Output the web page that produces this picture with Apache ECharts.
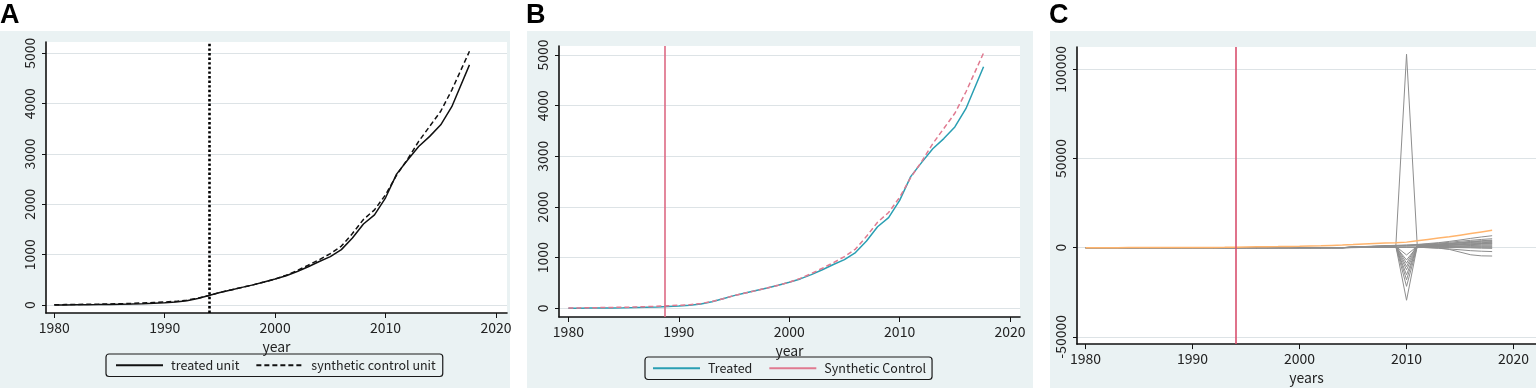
<!DOCTYPE html>
<html>
<head>
<meta charset="utf-8">
<script src="https://cdn.jsdelivr.net/npm/echarts@6/dist/echarts.min.js"></script>
<style>
html,body{margin:0;padding:0;background:#fff;}
#chart{width:1536px;height:390px;}
</style>
</head>
<body>
<div id="chart"></div>
<script>
// ---------- Data ----------
const yearsAB = [1980,1981,1982,1983,1984,1985,1986,1987,1988,1989,1990,1991,1992,1993,1994,1995,1996,1997,1998,1999,2000,2001,2002,2003,2004,2005,2006,2007,2008,2009,2010,2011,2012,2013,2014,2015,2016,2017.6];
const treatedUnit = [0,2,4,6,8,11,15,20,27,35,45,60,85,130,190,250,300,350,400,455,515,580,665,760,865,960,1100,1330,1610,1790,2130,2600,2880,3150,3350,3580,3940,4770];
const syntheticUnit = [5,8,11,14,17,20,25,32,40,50,60,72,95,135,190,250,300,350,400,455,515,590,685,790,900,1020,1170,1420,1700,1890,2190,2580,2900,3250,3550,3850,4270,5040];

const yearsC = [1980,1981,1982,1983,1984,1985,1986,1987,1988,1989,1990,1991,1992,1993,1994,1995,1996,1997,1998,1999,2000,2001,2002,2003,2004,2005,2006,2007,2008,2009,2010,2011,2012,2013,2014,2015,2016,2017,2018];
const treatedGap = [0,5,10,15,20,25,30,40,50,60,80,100,140,200,280,360,440,520,600,700,800,920,1050,1250,1450,1700,2000,2300,2550,2750,3100,3850,4600,5350,6100,7000,7900,8800,9700];
const placebo01 = [0,0,0,0,0,0,0,0,0,0,0,0,0,0,0,0,0,0,0,0,0,0,0,0,0,300,500,700,900,1000,108500,1200,1500,1800,2200,2700,3200,3600,3900];
const placebo02 = [0,0,0,0,0,0,0,0,0,0,0,0,0,0,0,0,0,0,0,0,0,0,0,0,0,200,300,400,600,800,-29500,900,1000,1200,1400,1700,2000,2300,2500];
const placebo03 = [0,0,0,0,0,0,0,0,0,0,0,0,0,0,0,0,0,0,0,0,0,0,0,0,0,150,250,350,500,700,-21700,600,700,800,900,1000,1200,1400,1500];
const placebo04 = [0,0,0,0,0,0,0,0,0,0,0,0,0,0,0,0,0,0,0,0,0,0,0,0,0,250,400,600,800,1000,-18000,1100,1300,1600,1900,2200,2500,2800,3000];
const placebo05 = [0,0,0,0,0,0,0,0,0,0,0,0,0,0,0,0,0,0,0,0,0,0,0,0,0,100,200,300,400,500,-15200,500,500,500,500,500,500,500,500];
const placebo06 = [0,0,0,0,0,0,0,0,0,0,0,0,0,0,0,0,0,0,0,0,0,0,0,0,0,100,150,250,350,450,-12400,400,300,200,100,0,-100,-300,-400];
const placebo07 = [0,0,0,0,0,0,0,0,0,0,0,0,0,0,0,0,0,0,0,0,0,0,0,0,0,200,350,500,700,900,-10600,1000,1200,1400,1600,1800,2100,2300,2500];
const placebo08 = [0,0,0,0,0,0,0,0,0,0,0,0,0,0,0,0,0,0,0,0,0,0,0,0,0,300,500,700,900,1100,-8700,1300,1700,2100,2500,3000,3500,3900,4200];
const placebo09 = [0,0,0,0,0,0,0,0,0,0,0,0,0,0,0,0,0,0,0,0,0,0,0,0,0,100,200,300,400,500,-6900,600,650,700,750,800,900,950,1000];
const placebo10 = [0,0,0,0,0,0,0,0,0,0,0,0,0,0,0,0,0,0,0,0,0,0,0,0,0,150,250,400,550,700,-4100,800,950,1100,1300,1500,1700,1900,2000];
const placebo11 = [0,0,0,0,0,0,0,0,0,0,0,0,0,0,0,0,0,0,0,0,0,0,0,0,0,400,600,900,1100,1300,1500,1800,2300,2800,3500,4300,5200,6000,6700];
const placebo12 = [0,0,0,0,0,0,0,0,0,0,0,0,0,0,0,0,0,0,0,0,0,0,0,0,0,50,100,150,200,250,300,200,0,-300,-1000,-2500,-4000,-4600,-4700];
const placebo13 = [0,0,0,0,0,0,0,0,0,0,0,0,0,0,0,0,0,0,0,0,0,0,0,0,0,50,100,150,200,250,300,200,0,-300,-700,-1200,-1700,-2000,-2200];
const placebo14 = [0,0,0,0,0,0,0,0,0,0,0,0,0,0,0,0,0,0,0,0,0,0,0,0,0,200,300,500,700,900,1100,1300,1600,1900,2200,2600,2900,3200,3400];
const placebo15 = [0,0,0,0,0,0,0,0,0,0,0,0,0,0,0,0,0,0,0,0,0,0,0,0,0,50,100,150,200,250,300,300,300,250,250,200,200,200,200];
const placebo16 = [0,0,0,0,0,0,0,0,0,0,0,0,0,0,0,0,0,0,0,0,0,0,0,0,0,300,500,700,900,1100,1300,1600,2000,2500,3000,3600,4100,4600,5000];
const placebos = [placebo01,placebo02,placebo03,placebo04,placebo05,placebo06,placebo07,placebo08,placebo09,placebo10,placebo11,placebo12,placebo13,placebo14,placebo15,placebo16];

const xTicks = [1980,1990,2000,2010,2020];
const yTicksAB = [0,1000,2000,3000,4000,5000];
const yTicksC = [-50000,0,50000,100000];
const interventionA = 1994;
const interventionB = 1988.75;
const interventionC = 1994;

// ---------- Styling ----------
const FONT = '"Noto Sans CJK SC", "Noto Sans", sans-serif';
const TXT = '#222';
const PANEL_BG = '#eaf2f3';
const GRID_LINE = '#dde3e6';

function pairs(xs, ys){ return xs.map((x,i)=>[x, ys[i]]); }

function xAxis(gi, min, max, name){
  return {
    type:'value', gridIndex:gi, min:min, max:max,
    name:name, nameLocation:'middle', nameGap:21,
    nameTextStyle:{fontSize:14,color:TXT,fontFamily:FONT},
    axisLine:{show:true,onZero:false,lineStyle:{color:'#111',width:1.6}},
    axisTick:{show:true,length:5,customValues:xTicks,lineStyle:{color:'#111',width:1}},
    axisLabel:{customValues:xTicks,fontSize:14,color:TXT,fontFamily:FONT,margin:8,formatter:v=>String(v)},
    splitLine:{show:false}
  };
}
function yAxis(gi, min, max, ticks){
  return {
    type:'value', gridIndex:gi, min:min, max:max,
    axisLine:{show:true,onZero:false,lineStyle:{color:'#111',width:1.6}},
    axisTick:{show:true,length:4,customValues:ticks,lineStyle:{color:'#111',width:1}},
    axisLabel:{customValues:ticks,fontSize:14,color:TXT,fontFamily:FONT,margin:9,rotate:90,formatter:v=>String(v)},
    splitLine:{show:true,lineStyle:{color:GRID_LINE,width:1}}
  };
}
function vline(x, style){
  return {silent:true,symbol:['none','none'],label:{show:false},emphasis:{disabled:true},
          lineStyle:style,data:[{xAxis:x}]};
}

const series = [
  {name:'treated unit',type:'line',xAxisIndex:0,yAxisIndex:0,data:pairs(yearsAB,treatedUnit),
   showSymbol:false,symbol:'none',lineStyle:{color:'#111',width:1.5,type:'solid'},itemStyle:{color:'#111'},
   markLine:vline(interventionA,{color:'#000',width:2.6,type:[2.4,2.2]}), z:3},
  {name:'synthetic control unit',type:'line',xAxisIndex:0,yAxisIndex:0,data:pairs(yearsAB,syntheticUnit),
   showSymbol:false,symbol:'none',lineStyle:{color:'#111',width:1.5,type:[5,3]},itemStyle:{color:'#111'}, z:3},
  {name:'Treated',type:'line',xAxisIndex:1,yAxisIndex:1,data:pairs(yearsAB,treatedUnit),
   showSymbol:false,symbol:'none',lineStyle:{color:'#2a9fb3',width:1.5},itemStyle:{color:'#2a9fb3'},
   markLine:vline(interventionB,{color:'#dd6a84',width:1.6,type:'solid'}), z:3},
  {name:'Synthetic Control',type:'line',xAxisIndex:1,yAxisIndex:1,data:pairs(yearsAB,syntheticUnit),
   showSymbol:false,symbol:'none',lineStyle:{color:'#e07a90',width:1.5,type:[5,3]},itemStyle:{color:'#e07a90'}, z:3}
];
placebos.forEach((p,i)=>{
  series.push({name:'placebo'+(i+1),type:'line',xAxisIndex:2,yAxisIndex:2,data:pairs(yearsC,p),
    showSymbol:false,symbol:'none',lineStyle:{color:'#8e8e8e',width:1},itemStyle:{color:'#8e8e8e'},z:2,silent:true});
});
series.push({name:'treated gap',type:'line',xAxisIndex:2,yAxisIndex:2,data:pairs(yearsC,treatedGap),
  showSymbol:false,symbol:'none',lineStyle:{color:'#ffb46c',width:1.5},itemStyle:{color:'#ffb46c'},z:4,
  markLine:vline(interventionC,{color:'#d9506e',width:1.6,type:'solid'})});

const legendBase = {
  orient:'horizontal', itemWidth:47, itemHeight:14, itemGap:16,
  borderColor:'#1a1a1a', borderWidth:1.2, borderRadius:3,
  itemStyle:{color:'rgba(0,0,0,0)',borderWidth:0,opacity:0},
  textStyle:{fontSize:12.5,color:TXT,fontFamily:FONT,padding:[0,0,0,3]},
  selectedMode:false
};

const option = {
  animation:false,
  backgroundColor:'#fff',
  graphic:[
    {type:'rect',z:-10,shape:{x:0,y:31,width:510,height:357},style:{fill:PANEL_BG}},
    {type:'rect',z:-10,shape:{x:527,y:31,width:506,height:357},style:{fill:PANEL_BG}},
    {type:'rect',z:-10,shape:{x:1050,y:31,width:486,height:357},style:{fill:PANEL_BG}},
    {type:'text',left:0,top:2,style:{text:'A',font:'bold 27px "Liberation Sans", Arial, sans-serif',fill:'#000'}},
    {type:'text',left:526,top:2,style:{text:'B',font:'bold 27px "Liberation Sans", Arial, sans-serif',fill:'#000'}},
    {type:'text',left:1049,top:2,style:{text:'C',font:'bold 27px "Liberation Sans", Arial, sans-serif',fill:'#000'}}
  ],
  grid:[
    {left:46,top:42,width:461,height:271,show:true,backgroundColor:'#fff',borderWidth:0},
    {left:559,top:46,width:461,height:271,show:true,backgroundColor:'#fff',borderWidth:0},
    {left:1077,top:47,width:459,height:300,show:true,backgroundColor:'#fff',borderWidth:0}
  ],
  xAxis:[
    xAxis(0,1979.25,2021.0,'year'),
    xAxis(1,1979.15,2020.9,'year'),
    xAxis(2,1979.2,2022.1,'years')
  ],
  yAxis:[
    yAxis(0,-159,5225,yTicksAB),
    yAxis(1,-172,5178,yTicksAB),
    yAxis(2,-54100,112550,yTicksC)
  ],
  legend:[
    Object.assign({},legendBase,{left:106,top:354,padding:[5,7,5,9],
      data:[{name:'treated unit'},{name:'synthetic control unit'}]}),
    Object.assign({},legendBase,{left:645,top:357,padding:[5,6,5,7],
      data:[{name:'Treated'},{name:'Synthetic Control',lineStyle:{type:'solid'}}]})
  ],
  series:series
};

const chart = echarts.init(document.getElementById('chart'),null,{renderer:'canvas'});
chart.setOption(option);
</script>
</body>
</html>
